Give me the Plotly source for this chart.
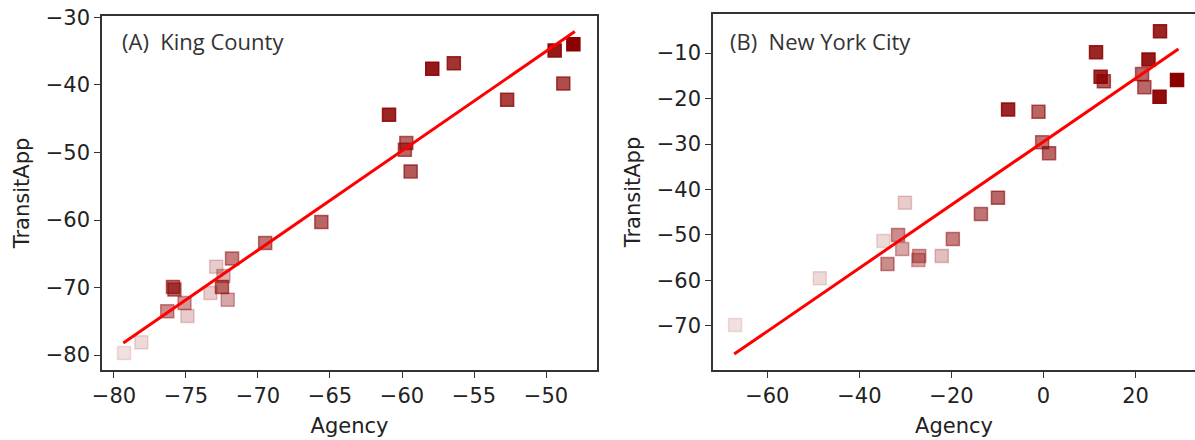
import plotly.graph_objects as go

# ---------------- data: (A) King County ----------------
kc_agency = [-79.3, -78.1, -76.3, -75.9, -75.8, -75.1, -74.9, -73.3, -72.9, -72.4,
             -72.5, -72.1, -71.8, -69.5, -65.6, -60.9, -59.7, -59.8, -59.4, -57.9,
             -56.4, -52.7, -49.4, -48.8, -48.1]
kc_transit = [-79.7, -78.1, -73.5, -69.9, -70.3, -72.3, -74.2, -70.8, -66.9, -68.3,
              -69.9, -71.8, -65.7, -63.4, -60.3, -44.4, -48.6, -49.6, -52.8, -37.6,
              -36.8, -42.2, -34.9, -39.8, -34.0]
kc_alpha = [0.12, 0.15, 0.45, 0.6, 0.55, 0.4, 0.2, 0.2, 0.2, 0.3,
            0.6, 0.35, 0.5, 0.55, 0.6, 0.85, 0.6, 0.6, 0.65, 0.9,
            0.8, 0.75, 0.9, 0.7, 1.0]
kc_fit_x = [-79.35, -48.0]
kc_fit_y = [-78.2, -32.1]

# ---------------- data: (B) New York City ----------------
nyc_agency = [-67.0, -48.6, -30.1, -34.8, -31.6, -30.7, -33.9, -27.0, -27.2, -22.1,
              -19.7, -13.6, -9.9, -7.7, -1.1, -0.3, 1.2, 11.4, 12.4, 13.1,
              25.3, 22.8, 21.4, 21.9, 25.2, 29.0]
nyc_transit = [-69.8, -59.5, -42.9, -51.3, -50.0, -53.1, -56.4, -54.6, -55.5, -54.6,
               -50.9, -45.4, -41.8, -22.4, -22.9, -29.6, -32.0, -9.8, -15.2, -16.2,
               -5.2, -11.4, -14.6, -17.5, -19.6, -15.9]
nyc_alpha = [0.12, 0.15, 0.2, 0.15, 0.45, 0.35, 0.45, 0.4, 0.35, 0.25,
             0.5, 0.55, 0.6, 0.85, 0.6, 0.55, 0.6, 0.85, 0.85, 0.65,
             0.85, 0.9, 0.6, 0.6, 0.95, 1.0]
nyc_fit_x = [-67.2, 29.3]
nyc_fit_y = [-76.2, -9.1]

kc_xticks = [-80, -75, -70, -65, -60, -55, -50]
kc_yticks = [-80, -70, -60, -50, -40, -30]
nyc_xticks = [-60, -40, -20, 0, 20]
nyc_yticks = [-70, -60, -50, -40, -30, -20, -10]

LINE = "#ff0000"
AX = "#333333"
FONT = "DejaVu Sans"


def rgba(a):
    return f"rgba(139,0,0,{a})"


def lab(v):
    return ("\u2212" + str(abs(v))) if v < 0 else str(v)


fig = go.Figure()

fig.add_trace(go.Scatter(
    x=kc_agency, y=kc_transit, mode="markers", xaxis="x", yaxis="y",
    marker=dict(symbol="square", size=13, color=[rgba(a) for a in kc_alpha],
                line=dict(color=[rgba(a) for a in kc_alpha], width=1.5)),
    showlegend=False, hoverinfo="x+y"))
fig.add_trace(go.Scatter(
    x=kc_fit_x, y=kc_fit_y, mode="lines", xaxis="x", yaxis="y",
    line=dict(color=LINE, width=3), showlegend=False))

fig.add_trace(go.Scatter(
    x=nyc_agency, y=nyc_transit, mode="markers", xaxis="x2", yaxis="y2",
    marker=dict(symbol="square", size=13, color=[rgba(a) for a in nyc_alpha],
                line=dict(color=[rgba(a) for a in nyc_alpha], width=1.5)),
    showlegend=False, hoverinfo="x+y", cliponaxis=False))
fig.add_trace(go.Scatter(
    x=nyc_fit_x, y=nyc_fit_y, mode="lines", xaxis="x2", yaxis="y2",
    line=dict(color=LINE, width=3), showlegend=False))

W, H = 1195, 440


def px_x(p):
    return p / W


def px_y(p):
    return 1 - p / H


TF = dict(family=FONT, size=21, color="#222")
common_ax = dict(showgrid=False, zeroline=False, showline=True, linecolor=AX, linewidth=1.5,
                 ticks="outside", ticklen=6, tickwidth=1.3, tickcolor=AX, automargin=False,
                 tickfont=TF)

fig.update_layout(
    width=W, height=H,
    margin=dict(l=0, r=0, t=0, b=0),
    paper_bgcolor="white", plot_bgcolor="white",
    xaxis=dict(domain=[px_x(102), px_x(597)], range=[-80.83, -46.46],
               tickvals=kc_xticks, ticktext=[lab(v) for v in kc_xticks],
               mirror=True, anchor="y",
               title=dict(text="Agency", font=TF, standoff=11),
               **common_ax),
    yaxis=dict(domain=[px_y(370), px_y(16)], range=[-82.2, -29.8],
               tickvals=kc_yticks, ticktext=[lab(v) for v in kc_yticks],
               mirror=True, anchor="x",
               title=dict(text="TransitApp", font=TF, standoff=10),
               **common_ax),
    xaxis2=dict(domain=[px_x(713), 1.0], range=[-71.8, 32.9],
                tickvals=nyc_xticks, ticktext=[lab(v) for v in nyc_xticks],
                mirror=True, anchor="y2",
                title=dict(text="Agency", font=TF, standoff=11),
                **common_ax),
    yaxis2=dict(domain=[px_y(370), px_y(14)], range=[-79.7, -1.4],
                tickvals=nyc_yticks, ticktext=[lab(v) for v in nyc_yticks],
                mirror=False, anchor="x2",
                title=dict(text="TransitApp", font=TF, standoff=10),
                **common_ax),
    annotations=[
        dict(text="(A)  King County", xref="paper", yref="paper",
             x=px_x(120), y=px_y(41), xanchor="left", yanchor="middle", showarrow=False,
             font=dict(family="Open Sans", size=22, color="#333")),
        dict(text="(B)  New York City", xref="paper", yref="paper",
             x=px_x(728), y=px_y(41), xanchor="left", yanchor="middle", showarrow=False,
             font=dict(family="Open Sans", size=22, color="#333")),
    ],
)

fig.write_html("out.html", config={"displayModeBar": False},
               post_script="document.body.style.margin='0';document.body.style.overflow='hidden';")
